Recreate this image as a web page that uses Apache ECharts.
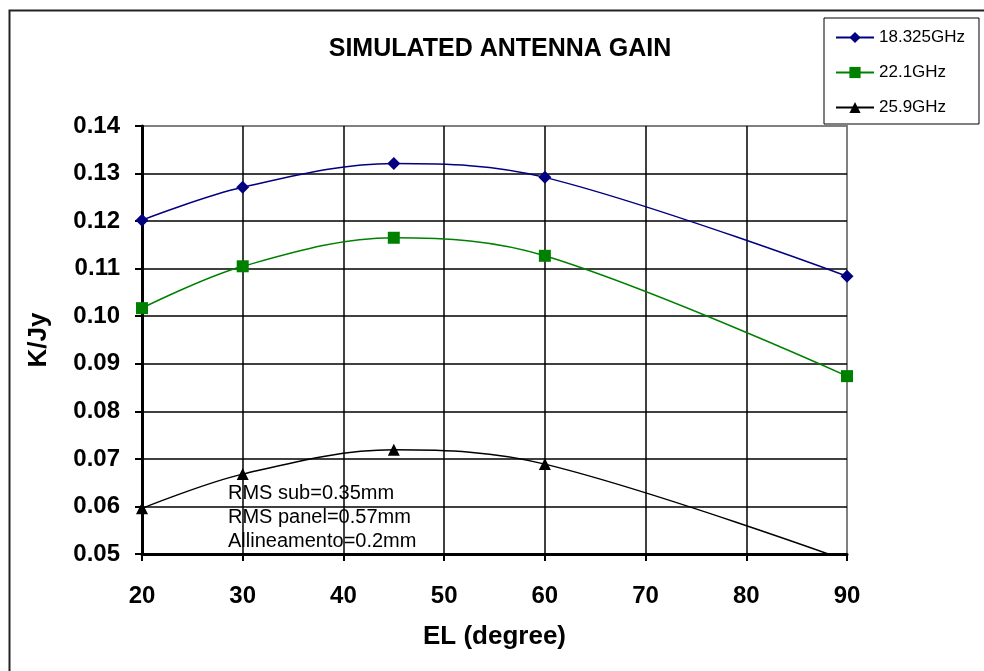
<!DOCTYPE html>
<html>
<head>
<meta charset="utf-8">
<title>Simulated antenna gain</title>
<script src="https://cdn.jsdelivr.net/npm/echarts@6/dist/echarts.min.js"></script>
<style>
  html, body { margin: 0; padding: 0; background: #fff; }
  #chart { width: 984px; height: 671px; }
</style>
</head>
<body>
<div id="chart"></div>
<script>
  // elevation angles (degree)
  const elevation = [20, 30, 45, 60, 90]
  // gain in K/Jy per frequency
  const gain18 = [0.1202, 0.1271, 0.1321, 0.1292, 0.1084]
  const gain22 = [0.1017, 0.1105, 0.1165, 0.1127, 0.0874]
  const gain25 = [0.0596, 0.0668, 0.0719, 0.0689, 0.0486]
  const seriesNames = ['18.325GHz', '22.1GHz', '25.9GHz']
  const noteLines = ['RMS sub=0.35mm', 'RMS panel=0.57mm', 'Allineamento=0.2mm']

  const font = 'Liberation Sans, Arial, sans-serif'
  const pairs = (ys) => elevation.map((x, i) => [x, ys[i]])

  function lineSeries(name, ys, color, symbol, size) {
    return {
      name: name,
      type: 'line',
      data: pairs(ys),
      smooth: 0.35,
      symbol: symbol,
      symbolSize: size,
      clip: true,
      itemStyle: { color: color },
      lineStyle: { color: color, width: 1.5 },
      emphasis: { disabled: true }
    }
  }

  const chart = echarts.init(document.getElementById('chart'))
  chart.setOption({
    animation: false,
    backgroundColor: '#fff',
    textStyle: { fontFamily: font },
    title: {
      text: 'SIMULATED ANTENNA GAIN',
      left: 500,
      top: 37,
      padding: 0,
      textAlign: 'center',
      textStyle: { fontFamily: font, fontSize: 25, fontWeight: 'bold', color: '#000' }
    },
    legend: {
      orient: 'vertical',
      left: 824,
      top: 18,
      padding: [11, 14, 8, 11],
      itemGap: 18,
      itemWidth: 38,
      itemHeight: 14,
      borderColor: '#000',
      borderWidth: 1,
      backgroundColor: '#fff',
      textStyle: { fontFamily: font, fontSize: 17, color: '#000' },
      data: seriesNames
    },
    grid: { left: 142, right: 137, top: 126, bottom: 117, show: true, borderColor: '#808080', borderWidth: 2 },
    xAxis: {
      type: 'value',
      min: 20,
      max: 90,
      interval: 10,
      name: 'EL (degree)',
      nameLocation: 'middle',
      nameGap: 70,
      nameTextStyle: { fontFamily: font, fontSize: 26, fontWeight: 'bold', color: '#000' },
      axisLine: { show: true, lineStyle: { color: '#000', width: 3 } },
      axisTick: { show: true, length: 7, lineStyle: { color: '#000', width: 2 } },
      axisLabel: { margin: 30, fontFamily: font, fontSize: 24, fontWeight: 'bold', color: '#000' },
      splitLine: { show: true, showMinLine: false, showMaxLine: false, lineStyle: { color: '#000', width: 1.5 } }
    },
    yAxis: {
      type: 'value',
      min: 0.05,
      max: 0.14,
      interval: 0.01,
      name: 'K/Jy',
      nameLocation: 'middle',
      nameGap: 90,
      nameRotate: 90,
      nameTextStyle: { fontFamily: font, fontSize: 26, fontWeight: 'bold', color: '#000' },
      axisLine: { show: true, lineStyle: { color: '#000', width: 3 } },
      axisTick: { show: true, length: 7, lineStyle: { color: '#000', width: 2 } },
      axisLabel: {
        margin: 22,
        fontFamily: font, fontSize: 24, fontWeight: 'bold', color: '#000',
        formatter: (v) => v.toFixed(2)
      },
      splitLine: { show: true, showMinLine: false, showMaxLine: false, lineStyle: { color: '#000', width: 1.5 } }
    },
    graphic: [
      {
        type: 'rect',
        left: 7,
        top: 8,
        z: -10,
        silent: true,
        shape: { width: 1000, height: 700 },
        style: { fill: 'none', stroke: '#222', lineWidth: 2 }
      },
      {
        type: 'text',
        left: 228,
        top: 481,
        z: 10,
        silent: true,
        style: {
          text: noteLines.join('\n'),
          fontFamily: font,
          fontSize: 20,
          lineHeight: 24,
          fill: '#000'
        }
      }
    ],
    series: [
      lineSeries(seriesNames[0], gain18, '#000080', 'diamond', 13),
      lineSeries(seriesNames[1], gain22, '#008000', 'rect', 12),
      lineSeries(seriesNames[2], gain25, '#000000', 'triangle', 12)
    ]
  })
</script>
</body>
</html>
